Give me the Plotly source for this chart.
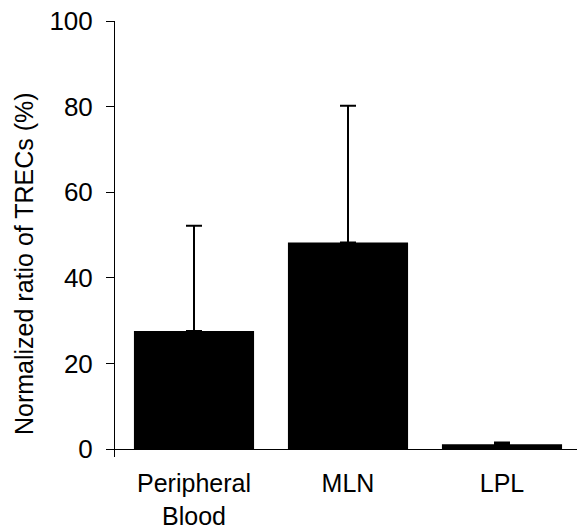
import plotly.graph_objects as go

categories = ["Peripheral<br>Blood", "MLN", "LPL"]
values = [27.6, 48.3, 1.2]
errors_up = [24.6, 31.9, 0.4]
y_ticks = [0, 20, 40, 60, 80, 100]
y_title = "Normalized ratio of TRECs (%)"

fig = go.Figure()
fig.add_trace(go.Bar(
    x=categories, y=values,
    width=0.78,
    marker=dict(color="black", line=dict(width=0)),
    error_y=dict(type="data", symmetric=False, array=errors_up,
                 arrayminus=[0] * len(values),
                 color="black", thickness=2, width=8),
))

fig.update_layout(
    width=577, height=531,
    margin=dict(l=115, r=0, t=21, b=74),
    paper_bgcolor="white", plot_bgcolor="white",
    showlegend=False,
    font=dict(family="Liberation Sans, Arial, sans-serif", color="black", size=26),
    xaxis=dict(
        range=[-0.513, 2.487],
        showline=False, showgrid=False, zeroline=False,
        ticks="", tickfont=dict(size=25),
        ticklabelstandoff=9, automargin=False,
    ),
    yaxis=dict(
        range=[-1.8, 100],
        tickvals=y_ticks,
        showline=True, linecolor="black", linewidth=1,
        showgrid=False,
        zeroline=True, zerolinecolor="black", zerolinewidth=1,
        ticks="outside", ticklen=8, tickcolor="black", tickwidth=1,
        tickfont=dict(size=26),
        ticklabelstandoff=8, automargin=False,
    ),
    annotations=[dict(
        text=y_title, textangle=-90,
        xref="paper", yref="paper",
        x=-115 / 462 + 24 / 462, xanchor="center",
        y=(531 - 74 - 264) / 436, yanchor="middle",
        showarrow=False, font=dict(size=25),
    )],
)

fig.write_html("out.html")
